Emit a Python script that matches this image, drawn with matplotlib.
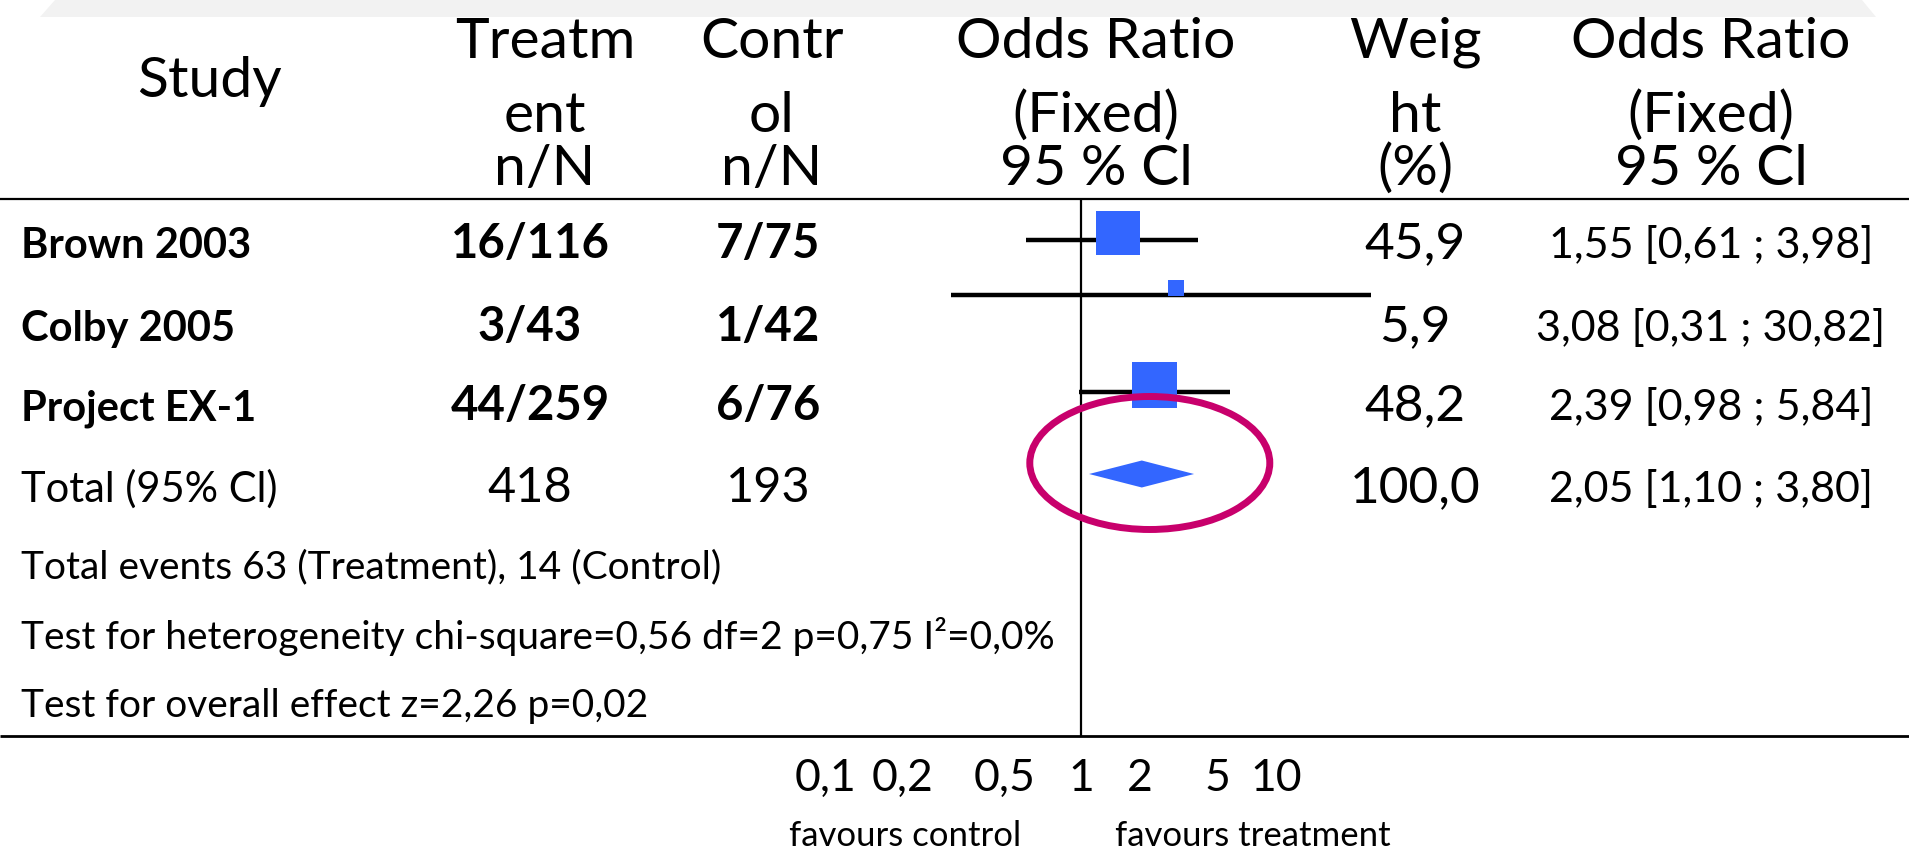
import matplotlib
matplotlib.use('Agg')
import matplotlib.pyplot as plt
from matplotlib.patches import Polygon, Ellipse
from matplotlib.ticker import NullLocator
from matplotlib.transforms import ScaledTranslation
import numpy as np

plt.rcParams['font.family'] = ['Lato', 'DejaVu Sans']

# ---------------- data ----------------
studies = ['Brown 2003', 'Colby 2005', 'Project EX-1']
treat_counts = ['16/116', '3/43', '44/259']
ctrl_counts = ['7/75', '1/42', '6/76']
odds = [1.55, 3.08, 2.39]
ci_low = [0.61, 0.31, 0.98]
ci_high = [3.98, 30.82, 5.84]
weights = [45.9, 5.9, 48.2]

total_label = 'Total (95% Cl)'
total_treat = 418
total_ctrl = 193
total_or = 2.05
total_low = 1.10
total_high = 3.80
total_weight = 100.0

notes = ['Total events 63 (Treatment), 14 (Control)',
         'Test for heterogeneity chi-square=0,56 df=2 p=0,75 I\u00b2=0,0%',
         'Test for overall effect z=2,26 p=0,02']

tick_values = [0.1, 0.2, 0.5, 1, 2, 5, 10]
tick_labels = ['0,1', '0,2', '0,5', '1', '2', '5', '10']
favours = ['favours control', 'favours treatment']

headers = [['Treatm', 'ent', 'n/N'],
           ['Contr', 'ol', 'n/N'],
           ['Odds Ratio', '(Fixed)', '95 % Cl'],
           ['Weig', 'ht', '(%)'],
           ['Odds Ratio', '(Fixed)', '95 % Cl']]


def dec(v, nd):
    return f"{v:.{nd}f}".replace('.', ',')


# ---------------- layout (pixels) ----------------
W, H = 1909, 851
BLUE = '#3366FF'
MAGENTA = '#C8006C'

col_x = [545, 772, 1096, 1415, 1711]        # header centres
cnt_x = [530, 768]                           # count columns
w_x, ci_x = 1415, 1711
header_base = [58, 132, 185]
row_base = [258, 341, 420, 502]
note_base = [578, 649, 717]
line_y = [240, 295, 392]                     # CI lines
sq_y = [233, 288, 385]                       # squares
dia_y = 474
top_line, bot_line = 199, 736
f_left, f_right, one_px = 700, 1460, 1081
dec_left, dec_right = 255.0, 195.0           # px per decade below / above 1


def fwd(x):
    L = np.log10(np.clip(np.asarray(x, dtype=float), 1e-300, None))
    return np.where(L < 0, L * dec_left, L * dec_right)


def inv(u):
    u = np.asarray(u, dtype=float)
    return np.where(u < 0, 10 ** (u / dec_left), 10 ** (u / dec_right))


fig = plt.figure(figsize=(W / 100, H / 100), dpi=100)
bg = fig.add_axes([0, 0, 1, 1])
bg.set_xlim(0, W)
bg.set_ylim(H, 0)
bg.axis('off')

# light slide band at top
bg.add_patch(Polygon([(40, 17), (55, 0), (1862, 0), (1876, 17)],
                     closed=True, facecolor='#F2F2F2', edgecolor='none'))

# horizontal rules
bg.plot([0, W], [top_line, top_line], color='black', lw=1.6, solid_capstyle='butt')
bg.plot([0, W], [bot_line, bot_line], color='black', lw=2.0, solid_capstyle='butt')

# headers
HS = 41
bg.text(209, 97, 'Study', ha='center', va='baseline', fontsize=HS)
for cx, lines in zip(col_x, headers):
    for by, t in zip(header_base, lines):
        bg.text(cx, by, t, ha='center', va='baseline', fontsize=HS)

# study rows
for i, s in enumerate(studies):
    yb = row_base[i]
    bg.text(21, yb, s, ha='left', va='baseline', fontsize=30, fontweight='bold')
    bg.text(cnt_x[0], yb, treat_counts[i], ha='center', va='baseline', fontsize=34, fontweight='bold')
    bg.text(cnt_x[1], yb, ctrl_counts[i], ha='center', va='baseline', fontsize=34, fontweight='bold')
    bg.text(w_x, yb, dec(weights[i], 1), ha='center', va='baseline', fontsize=37)
    bg.text(ci_x, yb, f"{dec(odds[i], 2)} [{dec(ci_low[i], 2)} ; {dec(ci_high[i], 2)}]",
            ha='center', va='baseline', fontsize=31)

yb = row_base[3]
bg.text(21, yb, total_label, ha='left', va='baseline', fontsize=30)
bg.text(cnt_x[0], yb, str(total_treat), ha='center', va='baseline', fontsize=35)
bg.text(cnt_x[1], yb, str(total_ctrl), ha='center', va='baseline', fontsize=35)
bg.text(w_x, yb, dec(total_weight, 1), ha='center', va='baseline', fontsize=37)
bg.text(ci_x, yb, f"{dec(total_or, 2)} [{dec(total_low, 2)} ; {dec(total_high, 2)}]",
        ha='center', va='baseline', fontsize=31)

for nb, t in zip(note_base, notes):
    bg.text(21, nb, t, ha='left', va='baseline', fontsize=28)

bg.text(905, 846, favours[0], ha='center', va='baseline', fontsize=25)
bg.text(1253, 846, favours[1], ha='center', va='baseline', fontsize=25)

# ---------------- forest axes ----------------
ax = fig.add_axes([f_left / W, (H - bot_line) / H, (f_right - f_left) / W, (bot_line - top_line) / H])
ax.set_xscale('function', functions=(fwd, inv))
ax.set_xlim(float(inv(f_left - one_px)), float(inv(f_right - one_px)))
ax.set_ylim(bot_line, top_line)
ax.patch.set_alpha(0)
for sp in ax.spines.values():
    sp.set_visible(False)
ax.set_yticks([])
ax.set_xticks(tick_values)
ax.set_xticklabels(tick_labels)
ax.xaxis.set_minor_locator(NullLocator())
ax.tick_params(axis='x', length=0, pad=16, labelsize=32)

ax.axvline(1, color='black', lw=1.6, zorder=1)
ax.hlines(line_y, ci_low, ci_high, color='black', lw=3.2, zorder=2)
ax.scatter(odds, sq_y, s=np.array(weights) * 21.9, marker='s', color=BLUE,
           linewidths=0, zorder=3)
ax.add_patch(Polygon([(total_low, dia_y), (total_or, dia_y - 13.5),
                      (total_high, dia_y), (total_or, dia_y + 13.5)],
                     closed=True, facecolor=BLUE, edgecolor='none', zorder=3))

# highlight ellipse around pooled estimate
etrans = fig.dpi_scale_trans + ScaledTranslation(total_or, dia_y, ax.transData)
ax.add_patch(Ellipse((0.08, 0.11), 2.40, 1.33, transform=etrans, fill=False,
                     edgecolor=MAGENTA, lw=5, clip_on=False, zorder=4))

fig.savefig('out.png', dpi=100)
